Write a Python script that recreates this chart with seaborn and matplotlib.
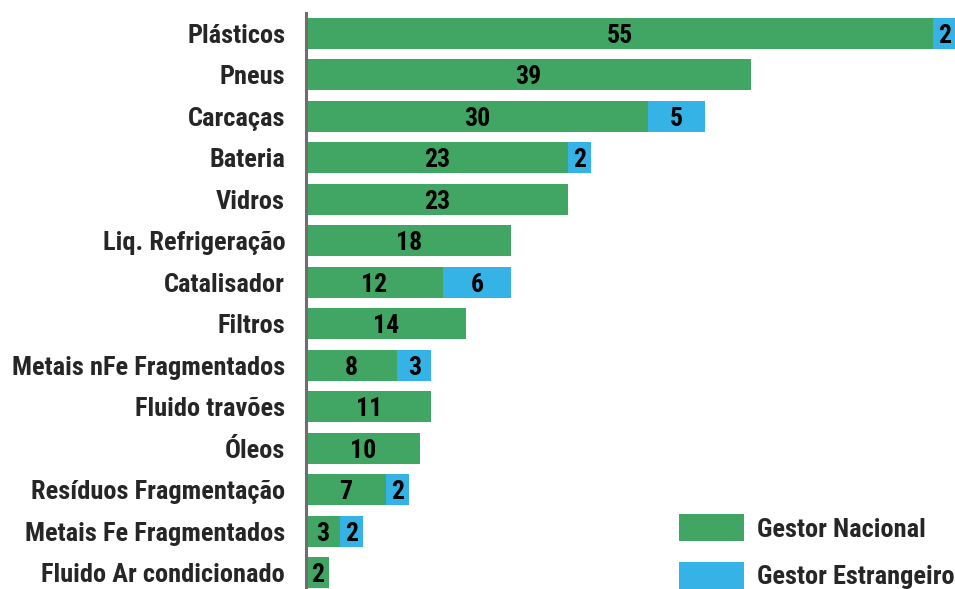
import matplotlib
matplotlib.use("Agg")
import matplotlib.pyplot as plt
from matplotlib import font_manager
from matplotlib.patches import Patch
import seaborn as sns
import pandas as pd

categories = [
    "Plásticos", "Pneus", "Carcaças", "Bateria", "Vidros", "Liq. Refrigeração",
    "Catalisador", "Filtros", "Metais nFe Fragmentados", "Fluido travões",
    "Óleos", "Resíduos Fragmentação", "Metais Fe Fragmentados",
    "Fluido Ar condicionado",
]
gestor_nacional = [55, 39, 30, 23, 23, 18, 12, 14, 8, 11, 10, 7, 3, 2]
gestor_estrangeiro = [2, 0, 5, 2, 0, 0, 6, 0, 3, 0, 0, 2, 2, 0]
series_names = ["Gestor Nacional", "Gestor Estrangeiro"]

GREEN = "#41a563"
BLUE = "#35b3e6"

sns.set_theme(style="white")

available = {f.name for f in font_manager.fontManager.ttflist}
family = "Roboto"
for cand in ["Roboto Condensed", "Liberation Sans Narrow", "DejaVu Sans Condensed", "Roboto"]:
    if cand in available:
        family = cand
        break
plt.rcParams["font.family"] = [family, "DejaVu Sans"]
plt.rcParams["font.weight"] = "bold"

df = pd.DataFrame({
    "categoria": categories,
    "nacional": gestor_nacional,
    "estrangeiro": gestor_estrangeiro,
})
df["total"] = df["nacional"] + df["estrangeiro"]

fig = plt.figure(figsize=(9.55, 5.89), dpi=100)
ax = fig.add_axes([306 / 955, 1 - 593.5 / 589, 1 - 306 / 955, 581 / 589])

# stacked bars: totals in blue underneath, national share in green on top
sns.barplot(data=df, y="categoria", x="total", color=BLUE, orient="h",
            width=0.75, saturation=1, linewidth=0, ax=ax)
sns.barplot(data=df, y="categoria", x="nacional", color=GREEN, orient="h",
            width=0.75, saturation=1, linewidth=0, ax=ax)

fs = 19
for i, (n, e) in enumerate(zip(df["nacional"], df["estrangeiro"])):
    if n > 0:
        ax.text(n / 2, i, str(n), ha="center", va="center_baseline",
                fontsize=fs - 0.5, fontweight="bold", color="black")
    if e > 0:
        ax.text(n + e / 2, i, str(e), ha="center", va="center_baseline",
                fontsize=fs - 0.5, fontweight="bold", color="black")

ax.set_xlim(0, 56.9)
ax.set_ylim(13.5, -0.5)
ax.set_xlabel("")
ax.set_ylabel("")
ax.set_xticks([])
ax.tick_params(axis="y", length=0, pad=15, labelsize=fs)
for lab in ax.get_yticklabels():
    lab.set_fontweight("bold")
for side in ["top", "right", "bottom"]:
    ax.spines[side].set_visible(False)
ax.spines["left"].set_color("#6e6e6e")
ax.spines["left"].set_linewidth(2.2)
ax.set_facecolor("white")

handles = [Patch(facecolor=GREEN, linewidth=0), Patch(facecolor=BLUE, linewidth=0)]
fig.legend(handles, series_names, loc="lower left",
           bbox_to_anchor=(679 / 955, 0), frameon=False,
           prop={"size": fs, "weight": "bold"},
           handlelength=2.45, handleheight=1.2, handletextpad=0.5,
           labelspacing=0.75, borderaxespad=0, borderpad=0)

fig.savefig("out.png", dpi=100, facecolor="white")
